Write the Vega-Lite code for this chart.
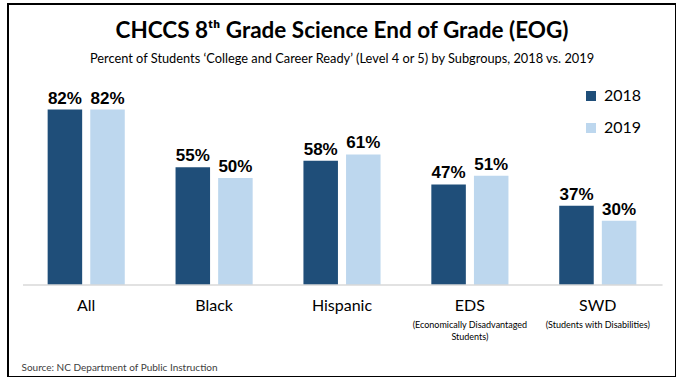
{
  "$schema": "https://vega.github.io/schema/vega-lite/v6.json",
  "width": 668,
  "height": 373,
  "autosize": {"type": "none"},
  "padding": {"left": 8, "top": 4, "right": 0, "bottom": 0},
  "background": "white",
  "config": {"view": {"stroke": "#000000", "strokeWidth": 2}, "font": "Lato"},
  "title": {
    "text": "CHCCS 8ᵗʰ Grade Science End of Grade (EOG)",
    "subtitle": "Percent of Students ‘College and Career Ready’ (Level 4 or 5) by Subgroups, 2018 vs. 2019",
    "font": "Lato", "fontSize": 22.5, "fontWeight": "bold", "color": "#000000",
    "subtitleFont": "Lato", "subtitleFontSize": 12.8, "subtitleColor": "#000000",
    "anchor": "middle", "frame": "group", "offset": -62, "subtitlePadding": 11
  },
  "data": {"values": [
    {"group": "All", "year": "2018", "pct": 82},
    {"group": "All", "year": "2019", "pct": 82},
    {"group": "Black", "year": "2018", "pct": 55},
    {"group": "Black", "year": "2019", "pct": 50},
    {"group": "Hispanic", "year": "2018", "pct": 58},
    {"group": "Hispanic", "year": "2019", "pct": 61},
    {"group": "EDS", "year": "2018", "pct": 47},
    {"group": "EDS", "year": "2019", "pct": 51},
    {"group": "SWD", "year": "2018", "pct": 37},
    {"group": "SWD", "year": "2019", "pct": 30}
  ]},
  "layer": [
    {
      "mark": {"type": "bar"},
      "encoding": {
        "x": {"field": "group", "type": "nominal", "sort": ["All", "Black", "Hispanic", "EDS", "SWD"],
          "scale": {"domain": ["All", "Black", "Hispanic", "EDS", "SWD"], "paddingInner": 0.397, "paddingOuter": 0.31},
          "axis": {"orient": "bottom", "offset": -92, "domain": false, "ticks": false, "grid": false,
            "labelAngle": 0, "labelFont": "Lato", "labelFontSize": 16, "labelColor": "#000000", "labelPadding": 12,
            "title": "Source: NC Department of Public Instruction", "titleFont": "Lato", "titleFontSize": 10,
            "titleFontWeight": "normal", "titleColor": "#404040", "titleAnchor": "start", "titleAlign": "left",
            "titleBaseline": "alphabetic", "titleX": 13, "titleY": 85}},
        "xOffset": {"field": "year", "type": "nominal", "scale": {"paddingInner": 0.19, "paddingOuter": 0}},
        "y": {"field": "pct", "type": "quantitative", "scale": {"domain": [-43, 131.3], "nice": false, "zero": false}, "axis": null},
        "color": {"field": "year", "type": "nominal",
          "scale": {"domain": ["2018", "2019"], "range": ["#1F4E79", "#BDD7EE"]},
          "legend": {"orient": "none", "legendX": 575, "legendY": 84, "title": null, "symbolType": "square",
            "symbolSize": 100, "symbolStrokeWidth": 0, "labelFont": "Lato", "labelFontSize": 16, "labelColor": "#000000",
            "rowPadding": 16, "labelOffset": 5, "padding": 0}}
      }
    },
    {
      "mark": {"type": "text", "font": "Liberation Sans", "fontWeight": "bold", "fontSize": 17, "color": "#000000",
        "baseline": "alphabetic", "dy": -6, "text": {"expr": "datum.pct + '%'"}},
      "encoding": {
        "x": {"field": "group", "type": "nominal", "sort": ["All", "Black", "Hispanic", "EDS", "SWD"],
          "axis": {"orient": "bottom", "offset": -92, "domain": false, "ticks": false, "grid": false, "title": null,
            "labelAngle": 0, "labelFont": "Lato", "labelFontSize": 9, "labelColor": "#000000", "labelPadding": 35,
            "labelLineHeight": 12, "labelBaseline": "top",
            "labelExpr": "datum.value == 'EDS' ? ['(Economically Disadvantaged', 'Students)'] : datum.value == 'SWD' ? '(Students with Disabilities)' : ''"}},
        "xOffset": {"field": "year", "type": "nominal"},
        "y": {"field": "pct", "type": "quantitative"}
      }
    },
    {
      "data": {"values": [{"first": "All", "last": "SWD", "base": 0}]},
      "mark": {"type": "rule", "color": "#D9D9D9", "strokeWidth": 1.5},
      "encoding": {
        "x": {"field": "first", "type": "nominal", "bandPosition": -0.32, "axis": null},
        "x2": {"field": "last", "bandPosition": 1.34},
        "y": {"field": "base", "type": "quantitative"}
      }
    }
  ],
  "resolve": {"axis": {"x": "independent"}}
}
